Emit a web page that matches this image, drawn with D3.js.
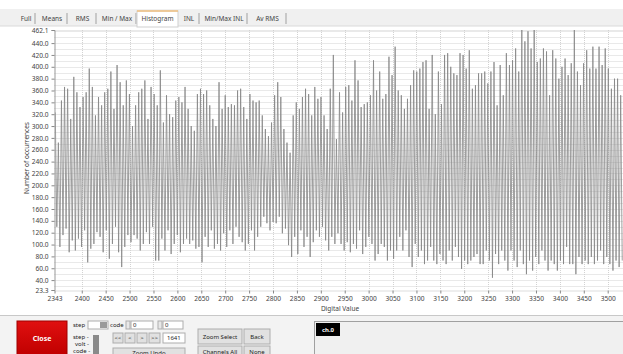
<!DOCTYPE html>
<html>
<head>
<meta charset="utf-8">
<script src="https://cdn.jsdelivr.net/npm/d3@7"></script>
<style>
body { margin: 0; background: #fff; overflow: hidden; }
text { font-family: "Noto Sans", "DejaVu Sans", sans-serif; }
</style>
</head>
<body>
<script>
// histogram envelope: top and bottom of each zigzag spike, left to right
const peaks = [
  323,272,343,366,363,312,383,357,332,349,357,397,366,318,349,335,357,363,392,329,403,374,335,377,354,300,335,357,363,377,312,366,354,335,394,306,352,320,315,343,349,340,366,329,300,292,
  354,363,354,360,335,312,300,374,329,352,332,337,335,360,363,332,312,354,343,340,343,318,295,283,306,352,374,349,295,272,255,318,340,329,349,363,354,318,366,346,349,318,295,363,420,278,
  357,323,366,369,343,411,377,332,337,340,352,411,360,392,346,354,417,386,434,360,352,329,346,369,394,392,397,408,411,329,420,320,392,337,420,423,400,389,386,423,420,397,428,363,369,389,
  389,392,372,392,408,335,403,352,423,403,411,431,392,463,443,460,431,463,408,414,431,426,352,428,414,380,400,414,386,406,463,392,369,406,428,397,434,397,434,403,431,397,363,380,380,352
];
const troughs = [
  130,96,116,127,87,107,90,110,96,124,70,93,101,121,113,87,124,76,101,130,87,62,96,116,104,116,110,90,101,121,101,130,73,73,110,90,124,84,101,116,87,101,110,101,107,93,
  96,70,113,96,124,93,101,90,119,96,124,101,130,113,104,90,101,124,90,113,130,147,136,124,138,136,147,119,127,99,79,113,84,124,96,113,79,104,124,113,130,107,90,113,101,119,
  101,90,104,87,101,93,124,84,96,113,101,73,84,101,96,73,90,76,90,113,90,124,79,62,101,79,90,67,73,96,73,67,84,73,67,90,73,96,79,59,73,67,73,79,84,67,
  67,90,73,44,84,67,90,73,56,90,73,62,90,67,50,73,56,79,67,90,73,56,73,67,56,73,67,96,67,67,50,79,67,73,67,79,67,73,90,67,79,67,56,73,62,73
];
const codeRange = [2343, 3532];
const valueRange = [23.3, 462.1];
const xTicks = [2343, 2400, 2450, 2500, 2550, 2600, 2650, 2700, 2750, 2800, 2850, 2900, 2950, 3000,
  3050, 3100, 3150, 3200, 3250, 3300, 3350, 3400, 3450, 3500, 3550];
const yTicks = [23.3, 40, 60, 80, 100, 120, 140, 160, 180, 200, 220, 240, 260, 280, 300, 320, 340,
  360, 380, 400, 420, 440, 462.1];
const tabNames = ["Full", "Means", "RMS", "Min / Max", "Histogram", "INL", "Min/Max INL", "Av RMS"];
const selectedTab = "Histogram";

const width = 623, height = 354;
const svg = d3.select("body").append("svg")
  .attr("width", width).attr("height", height);

// tab strip
const tabEdges = [16, 36, 68, 97, 137, 178, 200, 248, 287];
svg.append("rect").attr("x", 0).attr("y", 9).attr("width", width).attr("height", 17).attr("fill", "#f0f0f0");
svg.append("line").attr("x1", 0).attr("x2", width).attr("y1", 26).attr("y2", 26).attr("stroke", "#dadada");
tabNames.forEach((name, i) => {
  const x0 = tabEdges[i], x1 = tabEdges[i + 1];
  if (name === selectedTab) {
    svg.append("rect").attr("x", x0).attr("y", 11).attr("width", x1 - x0).attr("height", 16)
      .attr("fill", "#fff").attr("stroke", "#cfcfcf");
    svg.append("line").attr("x1", x0).attr("x2", x1).attr("y1", 11).attr("y2", 11)
      .attr("stroke", "#f0c080").attr("stroke-width", 1.5);
  } else {
    svg.append("line").attr("x1", x1 - 1).attr("x2", x1 - 1).attr("y1", 13).attr("y2", 24)
      .attr("stroke", "#a0a0a0");
  }
  svg.append("text").attr("x", (x0 + x1) / 2).attr("y", 21).attr("text-anchor", "middle")
    .attr("font-size", 6.5).attr("fill", "#444").text(name);
});

// plot
const x = d3.scaleLinear().domain(codeRange).range([54.5, 623]);
const y = d3.scaleLinear().domain(valueRange).range([290, 30]);

svg.append("clipPath").attr("id", "plotclip").append("rect")
  .attr("x", 54.5).attr("y", 30).attr("width", 623 - 54.5).attr("height", 260);

const grid = svg.append("g");
grid.selectAll(".hg").data(d3.range(30, 462, 10).concat([462.1]))
  .join("line")
  .attr("x1", 54.5).attr("x2", width)
  .attr("y1", d => Math.round(y(d)) + 0.5).attr("y2", d => Math.round(y(d)) + 0.5)
  .attr("stroke", "#d2d2d2").attr("stroke-dasharray", "1,1");
grid.selectAll(".vg").data(xTicks.slice(1))
  .join("line")
  .attr("x1", d => Math.round(x(d)) + 0.5).attr("x2", d => Math.round(x(d)) + 0.5)
  .attr("y1", 30).attr("y2", 290)
  .attr("stroke", "#d2d2d2").attr("stroke-dasharray", "1,1");

// zigzag histogram line
const step = (codeRange[1] - codeRange[0]) / peaks.length;
const pts = [];
peaks.forEach((p, i) => {
  pts.push([codeRange[0] + (i + 0.25) * step, p]);
  pts.push([codeRange[0] + (i + 0.75) * step, troughs[i]]);
});
svg.append("path")
  .attr("clip-path", "url(#plotclip)")
  .attr("d", d3.line().x(d => x(d[0])).y(d => y(d[1]))(pts))
  .attr("fill", "none").attr("stroke", "#858585").attr("stroke-width", 0.8);

// axes
const yAxis = svg.append("g").attr("transform", "translate(54.5,0)")
  .call(d3.axisLeft(y).tickValues(yTicks).tickFormat(d3.format(".1f")).tickSize(3));
const xAxis = svg.append("g").attr("transform", "translate(0,290.5)")
  .call(d3.axisBottom(x).tickValues(xTicks).tickFormat(d => d).tickSize(3).tickSizeOuter(0));
[yAxis, xAxis].forEach(g => {
  g.select(".domain").attr("stroke", "#999");
  g.selectAll(".tick line").attr("stroke", "#888");
  g.selectAll(".tick text").attr("font-size", 6.6).attr("fill", "#444")
    .attr("font-family", "Noto Sans, sans-serif");
});
xAxis.select(".domain").attr("stroke", "#ddd");

svg.append("text").attr("transform", "translate(29,158) rotate(-90)")
  .attr("text-anchor", "middle").attr("font-size", 6.5).attr("fill", "#444")
  .text("Number of occurrences");
svg.append("text").attr("x", 340).attr("y", 311).attr("text-anchor", "middle")
  .attr("font-size", 6.5).attr("fill", "#444").text("Digital Value");

// bottom control panel
svg.append("rect").attr("x", 0).attr("y", 316).attr("width", width).attr("height", 38).attr("fill", "#f3f3f3");
svg.append("line").attr("x1", 0).attr("x2", width).attr("y1", 315.5).attr("y2", 315.5).attr("stroke", "#c8c8c8");

const closeGrad = svg.append("defs").append("linearGradient").attr("id", "closeGrad")
  .attr("x1", 0).attr("x2", 0).attr("y1", 0).attr("y2", 1);
closeGrad.append("stop").attr("offset", "0%").attr("stop-color", "#e01010");
closeGrad.append("stop").attr("offset", "100%").attr("stop-color", "#c00000");
svg.append("rect").attr("x", 17).attr("y", 321).attr("width", 50).attr("height", 34)
  .attr("fill", "url(#closeGrad)").attr("stroke", "#a00000");
svg.append("text").attr("x", 42).attr("y", 341).attr("text-anchor", "middle")
  .attr("font-size", 7).attr("font-weight", "bold").attr("fill", "#fff").text("Close");

function label(tx, ty, s) {
  svg.append("text").attr("x", tx).attr("y", ty).attr("font-size", 6).attr("fill", "#222").text(s);
}
function box(bx, by, w, h, s, fill) {
  svg.append("rect").attr("x", bx).attr("y", by).attr("width", w).attr("height", h)
    .attr("fill", fill || "#e1e1e1").attr("stroke", "#adadad");
  if (s) svg.append("text").attr("x", bx + w / 2).attr("y", by + h / 2 + 2.2).attr("text-anchor", "middle")
    .attr("font-size", 6).attr("fill", "#222").text(s);
}
label(73, 327, "step");
box(88, 321, 20, 8, "", "#fff");
svg.append("rect").attr("x", 100).attr("y", 322).attr("width", 7).attr("height", 6).attr("fill", "#9a9a9a");
label(110, 327, "code");
box(126, 321, 4, 8, "", "#e8e8e8");
box(131, 321, 22, 8, "", "#fff");
label(133, 327, "0");
box(158, 321, 4, 8, "", "#e8e8e8");
box(163, 321, 20, 8, "", "#fff");
label(165, 327, "0");

label(73, 339, "step -");
label(75, 346, "volt -");
label(73, 353, "code -");
svg.append("rect").attr("x", 93).attr("y", 335).attr("width", 6).attr("height", 19).attr("fill", "#8a8a8a");
box(113, 333, 10, 10, "<<");
box(125, 333, 10, 10, "<");
box(137, 333, 10, 10, ">");
box(149, 333, 11, 10, ">>");
box(163, 333, 22, 10, "", "#fff");
label(167, 340, "1641");
box(113, 348, 72, 10, "Zoom Undo");

box(198, 329, 44, 15, "Zoom Select");
box(244, 329, 26, 15, "Back");
box(198, 346, 44, 12, "Channels All");
box(244, 346, 26, 12, "None");

svg.append("rect").attr("x", 314.5).attr("y", 321.5).attr("width", 320).attr("height", 40)
  .attr("fill", "#f0f0f0").attr("stroke", "#a0a0a0");
svg.append("rect").attr("x", 316).attr("y", 323).attr("width", 24).attr("height", 13).attr("fill", "#000");
svg.append("text").attr("x", 328).attr("y", 332).attr("text-anchor", "middle")
  .attr("font-size", 6).attr("font-weight", "bold").attr("fill", "#fff").text("ch.0");
</script>
</body>
</html>
